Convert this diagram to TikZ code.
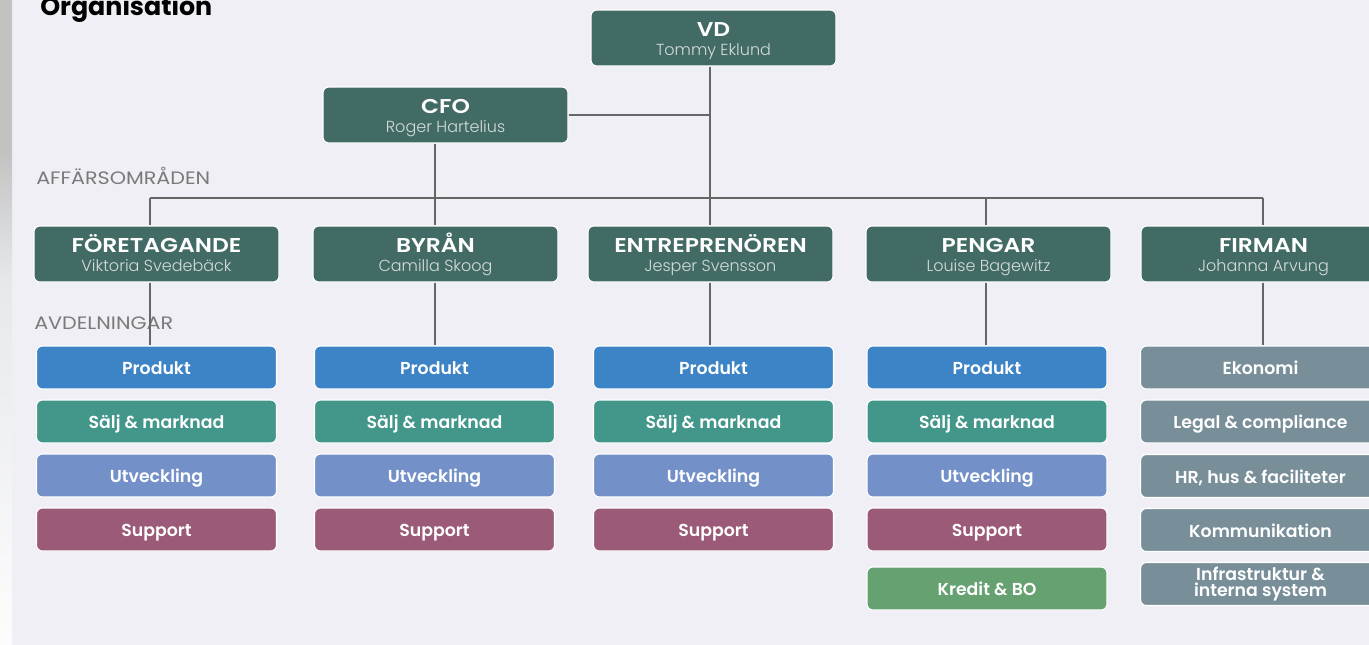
\documentclass[tikz,border=0pt]{standalone}
\usepackage{fontspec}
\setmainfont{Poppins}
\newfontfamily\semi{Poppins SemiBold}
\newfontfamily\semiW[FakeStretch=1.17]{Poppins SemiBold}
\newfontfamily\lite{Poppins Light}
\newfontfamily\regW[FakeStretch=1.15]{Poppins}
\definecolor{bg}{HTML}{F0EFF5}
\definecolor{dk}{HTML}{436B65}
\definecolor{cblue}{HTML}{3D84C6}
\definecolor{cteal}{HTML}{43968A}
\definecolor{cperi}{HTML}{7391C8}
\definecolor{cmauve}{HTML}{9B5A78}
\definecolor{cgreen}{HTML}{66A171}
\definecolor{cgray}{HTML}{788F99}
\definecolor{namec}{HTML}{D3DCDA}
\definecolor{linec}{HTML}{666666}
\definecolor{lblc}{HTML}{7A7A7A}
\definecolor{stripa}{HTML}{C2C2C2}
\definecolor{stripb}{HTML}{E6E8EA}
\tikzset{
  box/.style={draw=white, line width=0.8pt, rounded corners=4.5pt, text=white, inner sep=0pt, align=center},
  headbox/.style={box, fill=dk, minimum width={245*0.75pt}, minimum height={56*0.75pt}},
  deptbase/.style={box, minimum width={240*0.75pt}, minimum height={43*0.75pt}},
  deptbox/.style={deptbase, font=\semi\fontsize{13}{13}\selectfont, text height=11pt, text depth=0pt},
  ttl/.style={anchor=base, inner sep=0pt, text=white, font=\semiW\fontsize{15}{15}\selectfont},
  nm/.style={anchor=base, inner sep=0pt, text=namec, font=\lite\fontsize{12}{12}\selectfont},
  conn/.style={draw=linec, line width=1pt},
  lbl/.style={text=lblc, font=\regW\fontsize{13.5}{14}\selectfont, anchor=base west, inner sep=0pt}
}
\newcommand{\hdbox}[4]{%
  \node[headbox] (#1) at (#2) {};
  \node[ttl] (#1t) at ([yshift=1.1pt]#1.center) {#3};
  \node[nm] (#1n) at ([yshift=-13.2pt]#1.center) {#4};
}
\begin{document}
\begin{tikzpicture}[x=0.75pt,y=-0.75pt]
\useasboundingbox (0,0) rectangle (1369,644);
\fill[bg] (-10,-10) rectangle (1380,660);
\shade[top color=stripa, bottom color=stripa] (-2,-10) rectangle (12,150);
\shade[top color=stripa, bottom color=stripb] (-2,150) rectangle (12,280);
\shade[top color=stripb, bottom color=white!90!bg] (-2,280) rectangle (12,660);
\node[anchor=base west, inner sep=0pt, font=\bfseries\fontsize{19}{19}\selectfont] (title) at (40,15.5) {Organisation};
\node[lbl] (laff) at (36,184) {AFFÄRSOMRÅDEN};
% top
\hdbox{vd}{713.5,38}{VD}{Tommy Eklund}
\hdbox{cfo}{445.5,115}{CFO}{Roger Hartelius}
% areas
\hdbox{a1}{156.5,254}{FÖRETAGANDE}{Viktoria Svedebäck}
\hdbox{a2}{435.5,254}{BYRÅN}{Camilla Skoog}
\hdbox{a3}{710.5,254}{ENTREPRENÖREN}{Jesper Svensson}
\hdbox{a4}{988.5,254}{PENGAR}{Louise Bagewitz}
\hdbox{a5}{1263.5,254}{FIRMAN}{Johanna Arvung}
% connectors top
\coordinate (j1) at (150,198);
\coordinate (j2) at (435,198);
\coordinate (j3) at (710,198);
\coordinate (j4) at (986,198);
\coordinate (j5) at (1263,198);
\coordinate (cfoj) at (710,115);
\draw[conn] (j1) -- (j5);
\draw[conn] (vd.south -| j3) -- (a3.north -| j3);
\draw[conn] (cfo.east) -- (cfoj);
\draw[conn] (cfo.south -| j2) -- (a2.north -| j2);
\draw[conn] (j1) -- (a1.north -| j1);
\draw[conn] (j4) -- (a4.north -| j4);
\draw[conn] (j5) -- (a5.north -| j5);
% departments
\foreach \c/\x in {1/156.5,2/434.5,3/713.5,4/987}{
  \node[deptbox, fill=cblue] (p\c) at (\x,367.5) {Produkt};
  \node[deptbox, fill=cteal] (s\c) at (\x,421.5) {Sälj \& marknad};
  \node[deptbox, fill=cperi] (u\c) at (\x,475.5) {Utveckling};
  \node[deptbox, fill=cmauve] (su\c) at (\x,529.5) {Support};
}
\node[deptbox, fill=cgreen] (kr) at (987,588.5) {Kredit \& BO};
\node[deptbox, fill=cgray] (f1) at (1260.5,367.5) {Ekonomi};
\node[deptbox, fill=cgray] (f2) at (1260.5,421.5) {Legal \& compliance};
\node[deptbox, fill=cgray] (f3) at (1260.5,476) {HR, hus \& faciliteter};
\node[deptbox, fill=cgray] (f4) at (1260.5,530) {Kommunikation};
\node[deptbase, fill=cgray, font=\semi\fontsize{13}{11.5}\selectfont] (f5) at (1260.5,584) {Infrastruktur \&\\interna system};
\node[lbl] (lavd) at (34,329.3) {AVDELNINGAR};
% area to dept
\draw[conn] (a1.south -| j1) -- (p1.north -| j1);
\draw[conn] (a2.south -| j2) -- (p2.north -| j2);
\draw[conn] (a3.south -| j3) -- (p3.north -| j3);
\draw[conn] (a4.south -| j4) -- (p4.north -| j4);
\draw[conn] (a5.south -| j5) -- (f1.north -| j5);
\end{tikzpicture}
\end{document}
